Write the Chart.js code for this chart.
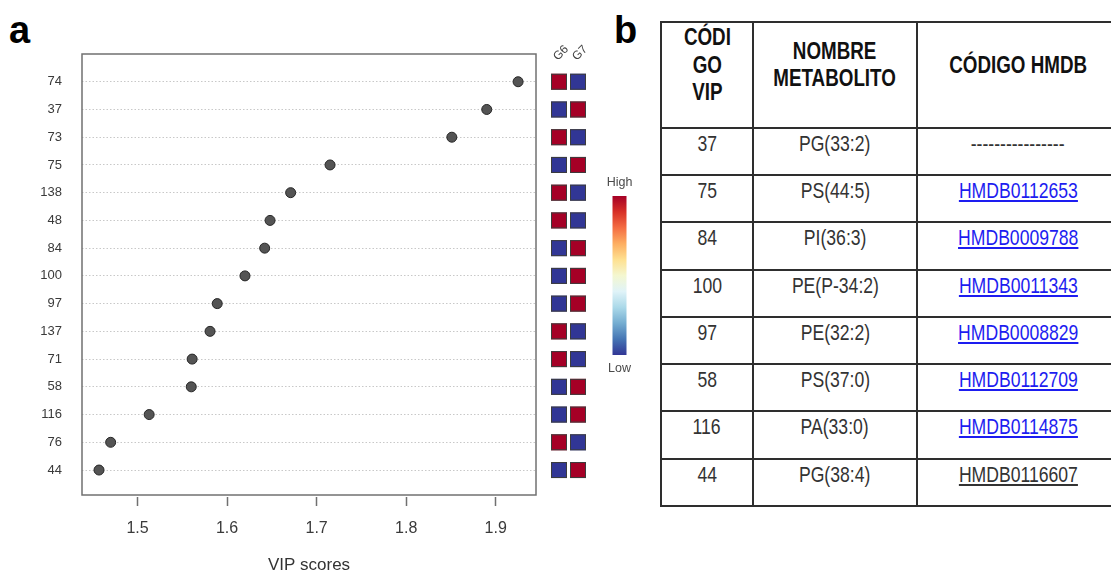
<!DOCTYPE html>
<html>
<head>
<meta charset="utf-8">
<script src="https://cdn.jsdelivr.net/npm/chart.js@4.4.1/dist/chart.umd.min.js"></script>
<style>
  html, body { margin: 0; padding: 0; background: #fff; overflow: hidden; }
  body { width: 1111px; height: 573px; position: relative; font-family: "Liberation Sans", Arial, sans-serif; }
  #vipChart { position: absolute; left: 0; top: 0; }
  .panel { position: absolute; font: bold 38px/38px "Liberation Sans", Arial, sans-serif; color: #000; }
  #lipids {
    position: absolute; left: 660px; top: 21px;
    display: grid;
    grid-template-columns: 92px 164px 202px;
    grid-template-rows: 105.7px repeat(8, 47.3px);
    border-top: 2px solid #2e2e2e; border-left: 2px solid #2e2e2e;
  }
  #lipids > div {
    box-sizing: border-box;
    border-right: 2px solid #2e2e2e; border-bottom: 2px solid #2e2e2e;
    text-align: center; color: #333;
  }
  #lipids .head {
    display: flex; align-items: center; justify-content: center;
    padding-bottom: 19px; font-weight: bold; font-size: 23.5px; line-height: 27.5px; color: #111;
  }
  #lipids .cell { padding-top: 3px; font-size: 22px; line-height: 24px; }
  .narrow { display: inline-block; transform: scaleX(0.8); white-space: nowrap; }
  .link { color: #1d1df0; text-decoration: underline; }
  .plain-id { color: #333; text-decoration: underline; }
</style>
</head>
<body>
<div class="panel" style="left:9px; top:11px;">a</div>
<div class="panel" style="left:614px; top:11px;">b</div>
<canvas id="vipChart" width="650" height="580" style="width:650px;height:580px;"></canvas>
<div id="lipids"></div>

<script>
// VIP scores per feature, top to bottom
const features = ['74', '37', '73', '75', '138', '48', '84', '100', '97', '137', '71', '58', '116', '76', '44'];
const vipScores = [1.925, 1.890, 1.851, 1.715, 1.671, 1.648, 1.642, 1.620, 1.589, 1.581, 1.561, 1.560, 1.513, 1.470, 1.457];
const xTicks = [1.5, 1.6, 1.7, 1.8, 1.9];

// relative concentration per group (1 = high, 0 = low)
const groups = ['G6', 'G7'];
const g6Level = [1, 0, 1, 0, 1, 1, 0, 0, 0, 1, 1, 0, 0, 1, 0];
const g7Level = [0, 1, 0, 1, 0, 0, 1, 1, 1, 0, 0, 1, 1, 0, 1];

// metabolite table
const tableHeaders = ['CÓDI<br>GO<br>VIP', 'NOMBRE<br>METABOLITO', 'CÓDIGO HMDB'];
const vipCodes = ['37', '75', '84', '100', '97', '58', '116', '44'];
const lipidNames = ['PG(33:2)', 'PS(44:5)', 'PI(36:3)', 'PE(P-34:2)', 'PE(32:2)', 'PS(37:0)', 'PA(33:0)', 'PG(38:4)'];
const hmdbIds = ['----------------', 'HMDB0112653', 'HMDB0009788', 'HMDB0011343', 'HMDB0008829', 'HMDB0112709', 'HMDB0114875', 'HMDB0116607'];
const hmdbLinked = [false, true, true, true, true, true, true, false];

const HIGH = '#a50026';
const LOW = '#313695';
const rdylbu = ['#a50026', '#d73027', '#f46d43', '#fdae61', '#fee090', '#f4f7d0', '#e0f3f8', '#abd9e9', '#74add1', '#4575b4', '#313695'];

// frame, group squares and colour key
const sidePanel = {
    id: 'sidePanel',
    afterDraw(chart) {
        const { ctx, chartArea: area, scales: { y } } = chart;
        ctx.save();

        ctx.strokeStyle = '#707070';
        ctx.lineWidth = 1.5;
        ctx.strokeRect(area.left, area.top, area.right - area.left, area.bottom - area.top);

        const colLeft = [area.right + 15, area.right + 34];
        const size = 16;
        const levels = [g6Level, g7Level];
        features.forEach((f, i) => {
            const cy = y.getPixelForValue(i);
            levels.forEach((lv, g) => {
                ctx.fillStyle = lv[i] ? HIGH : LOW;
                ctx.fillRect(colLeft[g], cy - size / 2, size, size);
                ctx.strokeStyle = '#3c3c3c';
                ctx.lineWidth = 1;
                ctx.strokeRect(colLeft[g] + 0.5, cy - size / 2 + 0.5, size - 1, size - 1);
            });
        });

        ctx.fillStyle = '#444';
        ctx.font = '12px "Liberation Sans", Arial, sans-serif';
        ctx.textAlign = 'center';
        ctx.textBaseline = 'middle';
        groups.forEach((g, k) => {
            ctx.save();
            ctx.translate(colLeft[k] + size / 2 + 2, 53);
            ctx.rotate(-Math.PI / 4);
            ctx.fillText(g, 0, 0);
            ctx.restore();
        });

        const barX = 612.5, barW = 14, barTop = 196, barBottom = 355;
        const grad = ctx.createLinearGradient(0, barTop, 0, barBottom);
        rdylbu.forEach((c, k) => grad.addColorStop(k / (rdylbu.length - 1), c));
        ctx.fillStyle = grad;
        ctx.fillRect(barX, barTop, barW, barBottom - barTop);

        ctx.fillStyle = '#4a4a4a';
        ctx.font = '12.5px "Liberation Sans", Arial, sans-serif';
        ctx.fillText('High', barX + barW / 2, 183);
        ctx.fillText('Low', barX + barW / 2, 369);
        ctx.restore();
    }
};

Chart.defaults.font.family = '"Liberation Sans", Arial, sans-serif';

new Chart(document.getElementById('vipChart'), {
    type: 'scatter',
    data: {
        datasets: [{
            data: vipScores.map((v, i) => ({ x: v, y: i })),
            pointRadius: 5,
            backgroundColor: '#545454',
            borderColor: '#262626',
            borderWidth: 1
        }]
    },
    options: {
        responsive: false,
        animation: false,
        layout: { padding: { left: 0, top: 54, right: 114, bottom: 0 } },
        plugins: { legend: { display: false }, tooltip: { enabled: false } },
        scales: {
            x: {
                type: 'linear',
                min: 1.438,
                max: 1.945,
                afterBuildTicks: s => { s.ticks = xTicks.map(v => ({ value: v })); },
                afterFit: s => { s.height = 85; },
                grid: {
                    drawOnChartArea: false,
                    tickLength: 11,
                    tickColor: '#707070',
                    tickWidth: 1.5,
                    tickBorderDash: [0, 2, 9, 100]
                },
                border: { display: false },
                ticks: {
                    padding: 13,
                    color: '#3a3a3a',
                    font: { size: 16 },
                    callback: v => v.toFixed(1)
                },
                title: {
                    display: true,
                    text: 'VIP scores',
                    color: '#333',
                    font: { size: 17 },
                    padding: { top: 0, bottom: 4 }
                }
            },
            y: {
                type: 'linear',
                reverse: true,
                min: -1.0,
                max: 14.9,
                afterBuildTicks: s => { s.ticks = features.map((f, i) => ({ value: i })); },
                afterFit: s => { s.width = 82; },
                grid: {
                    drawTicks: false,
                    color: '#c8c8c8',
                    lineWidth: 1
                },
                border: { display: false, dash: [1.5, 2] },
                ticks: {
                    padding: 20,
                    color: '#3a3a3a',
                    font: { size: 13 },
                    callback: v => features[v]
                }
            }
        }
    },
    plugins: [sidePanel]
});

// metabolite table
const table = document.getElementById('lipids');
function addCell(html, cls) {
    const d = document.createElement('div');
    d.className = cls;
    d.innerHTML = '<span class="narrow">' + html + '</span>';
    table.appendChild(d);
}
tableHeaders.forEach(h => addCell(h, 'head'));
vipCodes.forEach((code, i) => {
    addCell(code, 'cell');
    addCell(lipidNames[i], 'cell');
    let id = hmdbIds[i];
    if (hmdbLinked[i]) id = '<span class="link">' + id + '</span>';
    else if (id.startsWith('HMDB')) id = '<span class="plain-id">' + id + '</span>';
    addCell(id, 'cell');
});
</script>
</body>
</html>
